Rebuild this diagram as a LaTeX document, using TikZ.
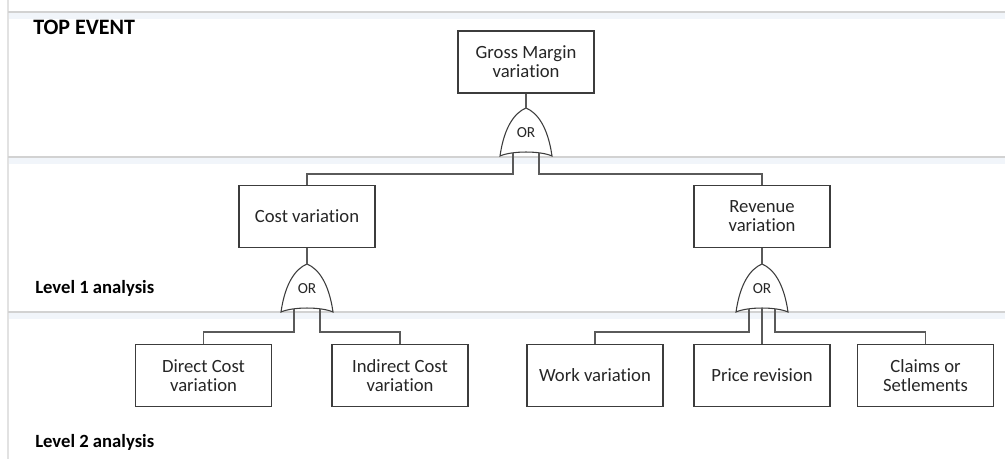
\documentclass[tikz,border=0pt]{standalone}
\usepackage{fontspec}
\setmainfont{Carlito}[Ligatures=NoCommon]
\usetikzlibrary{positioning}

\definecolor{rulegray}{HTML}{D2D2D2}
\definecolor{bandblue}{HTML}{F1F5FA}
\definecolor{framegray}{HTML}{E2E2E2}
\definecolor{boxgray}{HTML}{3C3C3C}
\definecolor{linkgray}{HTML}{5A5A5A}

\tikzset{
  event/.style={draw=boxgray, line width=0.9pt, fill=white, minimum width=102pt,
    minimum height=46.5pt, inner sep=0pt, align=center, text=black!85,
    font=\fontsize{14}{14.25}\selectfont},
  link/.style={draw=linkgray, line width=1.1pt},
  gate/.style={draw=boxgray, line width=0.8pt, fill=white},
  gatelabel/.style={inner sep=0pt, text=black!85, font=\fontsize{11.5}{11.5}\selectfont},
  lanelabel/.style={inner sep=0pt, font=\fontsize{14}{14}\selectfont\bfseries},
  rule/.style={draw=rulegray, line width=1.4pt},
  orgate/.pic={
    \draw[gate] (-26,48) .. controls (-22,20) and (-12,5) .. (0,0)
      .. controls (12,5) and (22,20) .. (26,48)
      .. controls (14,42.7) and (-14,42.7) .. cycle;
    \node[gatelabel] (-label) at (0,25) {OR};
    \coordinate (-top) at (0,0);
    \coordinate (-inl) at (-13,45);
    \coordinate (-inm) at (0,44);
    \coordinate (-inr) at (13,45);
  }
}

\begin{document}
\begin{tikzpicture}[x=0.75pt, y=-0.75pt]
  \useasboundingbox (0,0) rectangle (1005,459);

  % -- analysis levels --
  \fill[bandblue] (8,13) rectangle (1005,19);
  \fill[bandblue] (8,158) rectangle (1005,164);
  \fill[bandblue] (8,313) rectangle (1005,319);
  \draw[framegray, line width=1.2pt] (8,0) -- (8,459);
  \draw[rule] (8,12) -- (1005,12);
  \draw[rule] (8,157) -- (1005,157);
  \draw[rule] (8,312) -- (1005,312);

  \node[lanelabel, anchor=base west, font=\fontsize{16.5}{16.5}\selectfont\bfseries] (toplbl) at (33,35) {TOP EVENT};
  \node[lanelabel, anchor=base west] (lvl1) at (35,293) {Level 1 analysis};
  \node[lanelabel, anchor=base west] (lvl2) at (35,447) {Level 2 analysis};

  % -- events --
  \node[event] (gm) at (526,62) {Gross Margin\\variation};
  \node[event] (cost) at (307,216.5) {Cost variation};
  \node[event] (rev) at (762,216.5) {Revenue\\variation};
  \node[event] (dc) at (203.5,375.5) {Direct Cost\\variation};
  \node[event] (ic) at (400,375.5) {Indirect Cost\\variation};
  \node[event] (wv) at (595,375.5) {Work variation};
  \node[event] (pr) at (762,375.5) {Price revision};
  \node[event] (cs) at (925.5,375.5) {Claims or\\Setlements};

  % -- OR gates --
  \pic (g1) at (526,108) {orgate};
  \pic (g2) at (307,264) {orgate};
  \pic (g3) at (762,264) {orgate};

  % -- connectors --
  \coordinate (busA) at (0,174);
  \coordinate (busB) at (0,332);
  \draw[link] (gm.south) -- (g1-top);
  \draw[link] (cost.south) -- (g2-top);
  \draw[link] (rev.south) -- (g3-top);

  \draw[link] (g1-inl) -- (g1-inl |- busA) -| (cost.north);
  \draw[link] (g1-inr) -- (g1-inr |- busA) -| (rev.north);
  \draw[link] (g2-inl) -- (g2-inl |- busB) -| (dc.north);
  \draw[link] (g2-inr) -- (g2-inr |- busB) -| (ic.north);
  \draw[link] (g3-inl) -- (g3-inl |- busB) -| (wv.north);
  \draw[link] (g3-inm) -- (pr.north);
  \draw[link] (g3-inr) -- (g3-inr |- busB) -| (cs.north);

\end{tikzpicture}
\end{document}
